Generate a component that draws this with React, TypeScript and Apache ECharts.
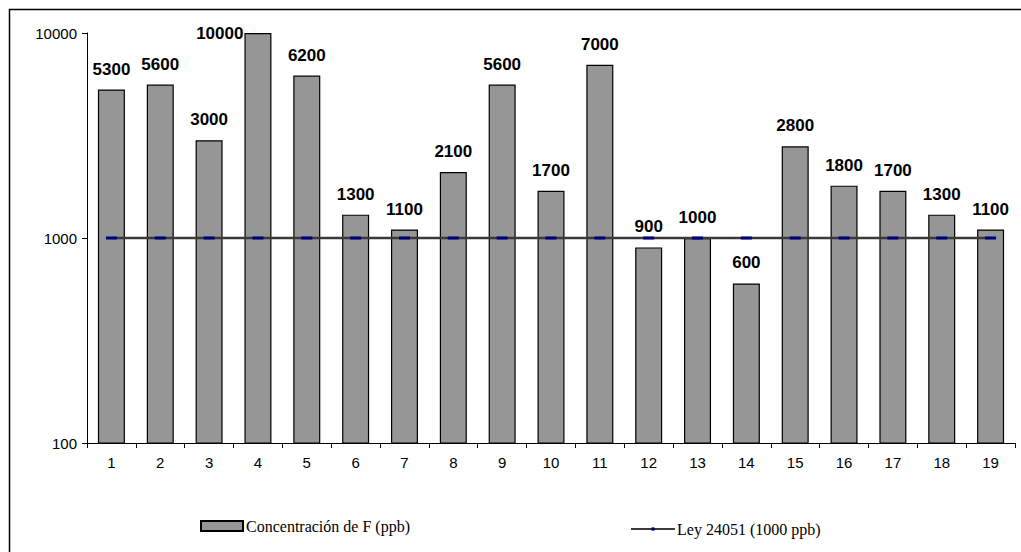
import React, { useEffect, useRef } from "react";
import * as echarts from "echarts";

const categories = ["1","2","3","4","5","6","7","8","9","10","11","12","13","14","15","16","17","18","19"];
const concentration = [5300,5600,3000,10000,6200,1300,1100,2100,5600,1700,7000,900,1000,600,2800,1800,1700,1300,1100];
const ley = [1000,1000,1000,1000,1000,1000,1000,1000,1000,1000,1000,1000,1000,1000,1000,1000,1000,1000,1000];
const yTicks = [100, 1000, 10000];
const barName = "Concentración de F (ppb)";
const lineName = "Ley 24051 (1000 ppb)";

const SANS = "'Liberation Sans', Arial, sans-serif";
const SERIF = "'Liberation Serif', 'Times New Roman', serif";

export default function App() {
  const ref = useRef<HTMLDivElement>(null);
  useEffect(() => {
    if (!ref.current) return;
    const chart = echarts.init(ref.current, undefined, { renderer: "svg" });
    const maxVal = Math.max(...concentration);
    chart.setOption({
      animation: false,
      backgroundColor: "#ffffff",
      graphic: [
        {
          type: "rect",
          shape: { x: 9.5, y: 9.5, width: 1200, height: 1000 },
          style: { fill: "none", stroke: "#000", lineWidth: 1.5 },
          z: 100,
        },
      ],
      grid: { left: 87, right: 6, top: 33, bottom: 109, containLabel: false },
      legend: [
        {
          data: [{ name: barName, icon: "rect" }],
          left: 195,
          top: 513,
          itemWidth: 42,
          itemHeight: 10,
          textStyle: { fontFamily: SERIF, fontSize: 16, color: "#000", padding: [0, 0, 0, -2] },
        },
        {
          data: [lineName],
          left: 625,
          top: 516,
          itemWidth: 44,
          itemHeight: 4,
          textStyle: { fontFamily: SERIF, fontSize: 16, color: "#000", padding: [0, 0, 0, -3] },
        },
      ],
      xAxis: {
        type: "category",
        data: categories,
        axisLine: { lineStyle: { color: "#000", width: 1 } },
        axisTick: { show: true, length: 5, alignWithLabel: false, lineStyle: { color: "#000" } },
        axisLabel: { fontFamily: SANS, fontSize: 15, color: "#000", margin: 12 },
        splitLine: { show: false },
      },
      yAxis: {
        type: "log",
        logBase: 10,
        min: yTicks[0],
        max: yTicks[yTicks.length - 1],
        axisLine: { show: true, lineStyle: { color: "#000", width: 1 } },
        axisTick: { show: true, length: 5, lineStyle: { color: "#000" } },
        minorTick: { show: false },
        axisLabel: {
          fontFamily: SANS,
          fontSize: 15,
          color: "#000",
          margin: 10,
          formatter: (v: number) => String(Math.round(v)),
        },
        splitLine: { show: false },
      },
      series: [
        {
          name: barName,
          type: "bar",
          barWidth: 27,
          data: concentration.map((v) =>
            v === maxVal
              ? {
                  value: v,
                  label: { position: [-1, 0], align: "right", verticalAlign: "middle" },
                }
              : v
          ),
          itemStyle: { color: "#969696", borderColor: "#000", borderWidth: 1.2 },
          label: {
            show: true,
            position: "top",
            distance: 12,
            fontFamily: SANS,
            fontWeight: "bold",
            fontSize: 17,
            color: "#000",
          },
        },
        {
          name: lineName,
          type: "line",
          data: ley,
          symbol: "rect",
          symbolSize: [11, 3],
          showSymbol: true,
          lineStyle: { color: "#3a3a3a", width: 2.5 },
          itemStyle: { color: "#000080" },
          z: 3,
        },
      ],
    });
    return () => chart.dispose();
  }, []);
  return (
    <div
      ref={ref}
      style={{ position: "absolute", left: 0, top: 0, width: 1021, height: 552 }}
    />
  );
}
